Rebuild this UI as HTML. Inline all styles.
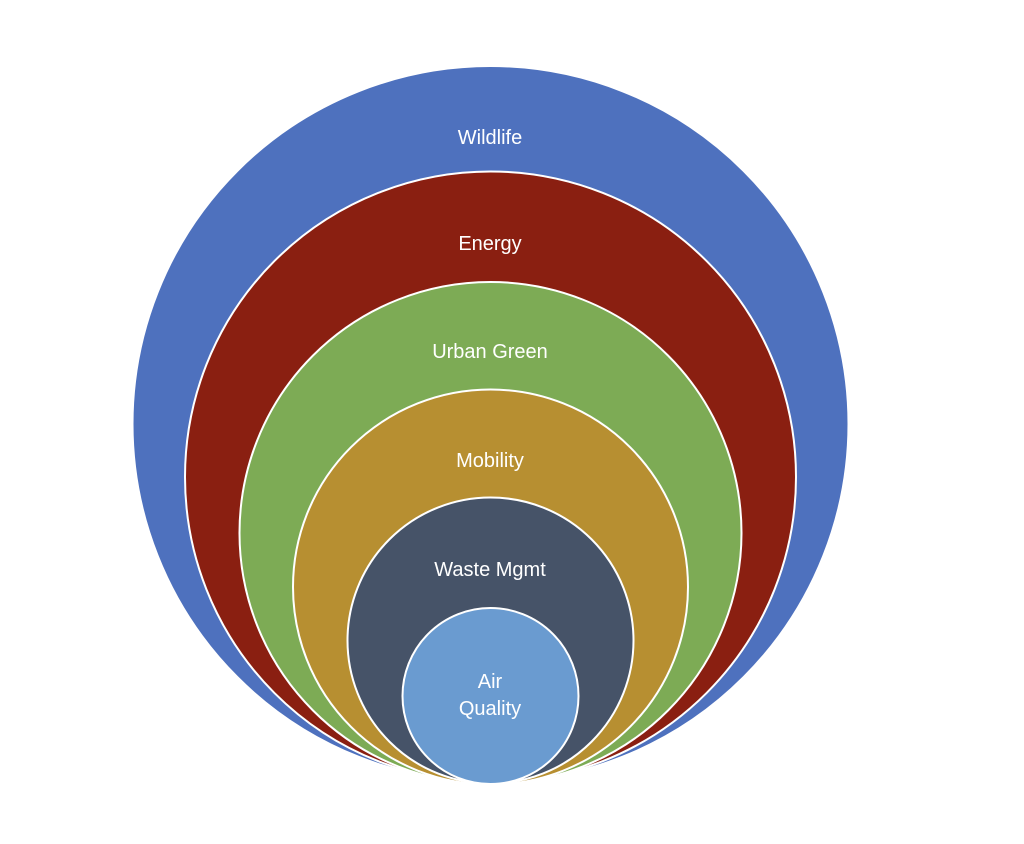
<!DOCTYPE html>
<html><head><style>html,body{margin:0;padding:0;background:#fff;}</style></head><body>
<svg width="1024" height="839" viewBox="0 0 1024 839" xmlns="http://www.w3.org/2000/svg" font-family="Liberation Sans, sans-serif" font-size="20" fill="#fff" text-anchor="middle">
<circle cx="490.5" cy="424" r="358" fill="#4e71be" stroke="#fff" stroke-width="2"/>
<circle cx="490.5" cy="477" r="305.5" fill="#8a1f11" stroke="#fff" stroke-width="2"/>
<circle cx="490.5" cy="533" r="251" fill="#7dab55" stroke="#fff" stroke-width="2"/>
<circle cx="490.5" cy="587" r="197.5" fill="#b78f31" stroke="#fff" stroke-width="2"/>
<circle cx="490.5" cy="640.5" r="143" fill="#465368" stroke="#fff" stroke-width="2"/>
<circle cx="490.5" cy="696" r="88" fill="#6a9bd0" stroke="#fff" stroke-width="2"/>
<text x="490" y="144">Wildlife</text>
<text x="490" y="250">Energy</text>
<text x="490" y="358">Urban Green</text>
<text x="490" y="467">Mobility</text>
<text x="490" y="576">Waste Mgmt</text>
<text x="490" y="688">Air</text>
<text x="490" y="715">Quality</text>
</svg>
</body></html>
